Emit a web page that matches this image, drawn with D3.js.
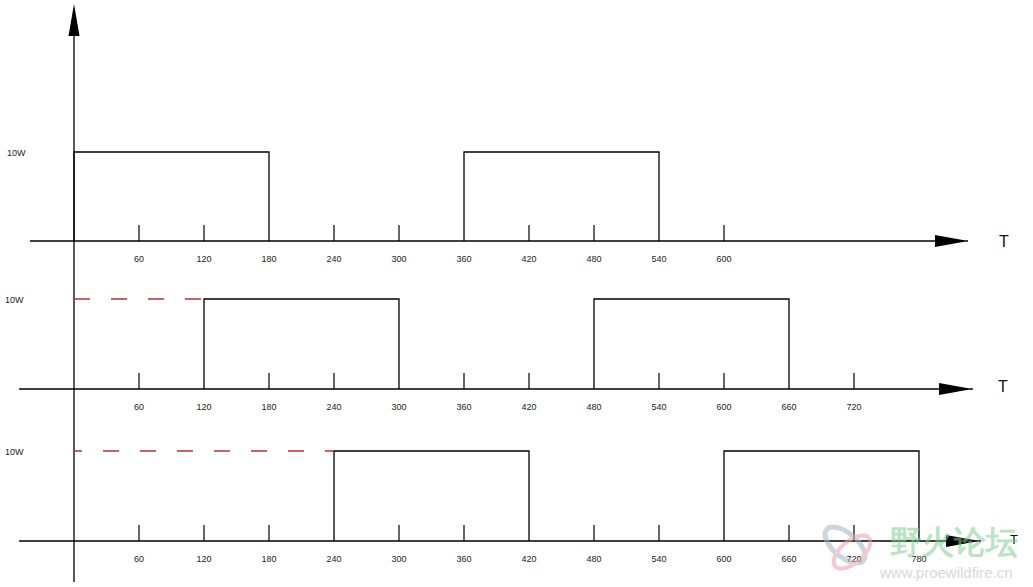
<!DOCTYPE html>
<html><head><meta charset="utf-8">
<script src="https://cdn.jsdelivr.net/npm/d3@7"></script>
<style>
html,body{margin:0;padding:0;background:#fff;}
svg{display:block;}
text{font-family:"Liberation Sans",Arial,sans-serif;}
</style></head>
<body>
<svg id="c" width="1033" height="587"></svg>
<script>
// ---- data ----
const tickValues1 = [60,120,180,240,300,360,420,480,540,600];
const tickValues2 = [60,120,180,240,300,360,420,480,540,600,660,720];
const tickValues3 = [60,120,180,240,300,360,420,480,540,600,660,720,780];
const pulses1 = [[0,180],[360,540]];
const pulses2 = [[120,300],[480,660]];
const pulses3 = [[240,420],[600,780]];
const delays = [0,120,240];
const powerLevel = 10;
const powerLabel = "10W";
const axisName = "T";

// ---- layout ----
const svg = d3.select("#c");
const W = 1033, H = 587;
const x = d3.scaleLinear().domain([0,780]).range([74,919]);
const panels = [
  {ticks:tickValues1, pulses:pulses1, delay:delays[0], base:241, top:152, axStart:30, arrowBase:935, arrowTip:964, lineEnd:968, tX:1004, tY:247, tSize:16, dashOff:0},
  {ticks:tickValues2, pulses:pulses2, delay:delays[1], base:389, top:299, axStart:19, arrowBase:939, arrowTip:968, lineEnd:973, tX:1003, tY:392, tSize:16, dashOff:0},
  {ticks:tickValues3, pulses:pulses3, delay:delays[2], base:541, top:451, axStart:19, arrowBase:946, arrowTip:975, lineEnd:981, tX:1014, tY:544, tSize:13, dashOff:8}
];

// vertical axis
svg.append("line").attr("x1",x(0)).attr("x2",x(0)).attr("y1",34).attr("y2",582)
  .attr("stroke","#000").attr("stroke-width",1.3);
svg.append("path").attr("d",`M${x(0)},4 L${x(0)-5.5},36 L${x(0)+5.5},36 Z`).attr("fill","#000");

panels.forEach((p,i)=>{
  const y = d3.scaleLinear().domain([0,powerLevel]).range([p.base,p.top]);
  const g = svg.append("g");
  // horizontal axis line
  g.append("line").attr("x1",p.axStart).attr("x2",p.lineEnd).attr("y1",y(0)).attr("y2",y(0))
    .attr("stroke","#000").attr("stroke-width",1.3);
  // arrow head
  g.append("path").attr("d",`M${p.arrowBase},${y(0)-6} L${p.arrowTip},${y(0)-0.8} L${p.arrowTip},${y(0)+0.8} L${p.arrowBase},${y(0)+6} Z`).attr("fill","#000");
  // T label
  g.append("text").attr("x",p.tX).attr("y",p.tY).attr("font-size",p.tSize).attr("text-anchor","middle")
    .attr("fill","#111").attr("font-weight","300").text(axisName);
  // 10W label
  g.append("text").attr("x",i===0?7:5).attr("y",y(powerLevel)+4).attr("font-size",9).attr("fill","#222").text(powerLabel);
  // tick marks (skip those at pulse edges)
  const edges = new Set(p.pulses.flat());
  g.selectAll("line.tk").data(p.ticks.filter(t=>!edges.has(t))).join("line")
    .attr("x1",d=>x(d)).attr("x2",d=>x(d)).attr("y1",y(0)-16).attr("y2",y(0))
    .attr("stroke","#000").attr("stroke-width",1.2);
  // tick labels
  g.selectAll("text.tl").data(p.ticks).join("text")
    .attr("x",d=>x(d)).attr("y",y(0)+21).attr("text-anchor","middle")
    .attr("font-size",9).attr("fill","#222").text(d=>d);
  // pulses
  g.selectAll("path.pulse").data(p.pulses).join("path")
    .attr("d",d=>`M${x(d[0])},${y(0)} V${y(powerLevel)} H${x(d[1])} V${y(0)}`)
    .attr("fill","none").attr("stroke","#000").attr("stroke-width",1.3);
  // red dashed delay line
  if (p.delay>0) {
    g.append("line").attr("x1",x(0)).attr("x2",x(p.delay)).attr("y1",y(powerLevel)).attr("y2",y(powerLevel))
      .attr("stroke","#b83030").attr("stroke-width",1.3)
      .attr("stroke-dasharray","16,21").attr("stroke-dashoffset",p.dashOff);
  }
});

// watermark
const wm = svg.append("g").attr("opacity",0.55);
wm.append("ellipse").attr("cx",845).attr("cy",545).attr("rx",24).attr("ry",12)
  .attr("transform","rotate(40,845,545)").attr("fill","none").attr("stroke","#9fb4c8").attr("stroke-width",5);
wm.append("ellipse").attr("cx",852).attr("cy",552).attr("rx",22).attr("ry",11)
  .attr("transform","rotate(-40,852,552)").attr("fill","none").attr("stroke","#e8a0a8").attr("stroke-width",4);
wm.append("text").attr("x",890).attr("y",553).attr("font-size",32).attr("font-weight","bold")
  .attr("font-family","Noto Sans CJK SC").attr("fill","#7fcf95").text("野火论坛");
wm.append("text").attr("x",880).attr("y",578).attr("font-size",15)
  .attr("fill","#b8b8b8").text("www.proewildfire.cn");
</script>
</body></html>
